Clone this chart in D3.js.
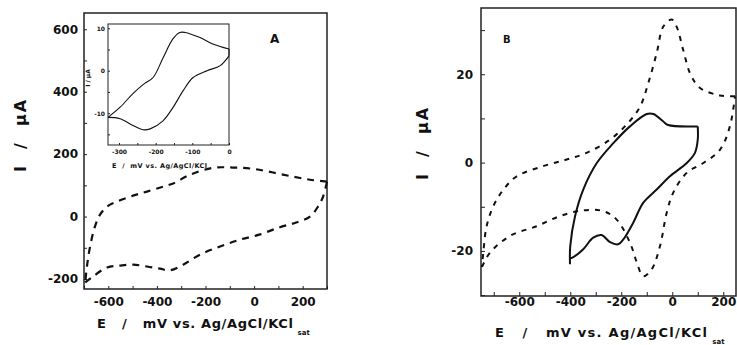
<!DOCTYPE html>
<html>
<head>
<meta charset="utf-8">
<script src="https://cdn.jsdelivr.net/npm/d3@7"></script>
<style>
  body { margin: 0; background: #fff; }
  text { font-family: "DejaVu Sans", sans-serif; font-weight: bold; fill: #111; }
</style>
</head>
<body>
<div id="chart"></div>
<script>
// Panel A, large loop (dashed), [E mV, I uA]
var aMain = [
  [300, 112], [230, 118], [160, 128], [78, 141], [-5, 153], [-87, 157], [-170, 156],
  [-264, 134], [-333, 106], [-374, 96], [-441, 80], [-498, 67], [-564, 48], [-605, 32],
  [-634, 6], [-655, -32], [-675, -96], [-688, -160], [-695, -211],
  [-663, -192], [-605, -163], [-552, -157], [-498, -154], [-441, -160], [-387, -167],
  [-346, -172], [-292, -154], [-223, -122], [-140, -96], [-58, -74], [21, -58],
  [103, -35], [173, -19], [230, 0], [263, 32], [284, 64], [300, 112]
];
// Panel A inset (solid)
var aInset = [
  [-330, -11], [-297, -8.6], [-262, -5.4], [-230, -3], [-207, -1.6], [-180, 3], [-153, 7.5],
  [-134, 9], [-120, 9], [-79, 7.8], [-44, 6.3], [0, 5.1], [0, 3.5], [-24, 1.2], [-60, 0],
  [-98, -1.6], [-125, -4.7], [-153, -8.7], [-180, -11.8], [-215, -13.7], [-235, -13.9],
  [-262, -12.9], [-297, -11.3], [-330, -11]
];
// Panel B, dashed loop
var bDashed = [
  [246, 15], [187, 15.2], [109, 16.9], [70, 20.2], [43, 25.5], [17, 30.8], [-2, 32.4],
  [-35, 30.8], [-61, 24.8], [-94, 18], [-126, 12.7], [-179, 8.6], [-244, 5.2], [-336, 2.2],
  [-414, 0.7], [-506, -0.8], [-610, -3.1], [-662, -6.1], [-702, -9.9], [-728, -14.4],
  [-741, -20.4], [-746, -23.6],
  [-715, -20.4], [-636, -16.6], [-532, -14.4], [-440, -12.1], [-349, -10.8], [-270, -11],
  [-218, -12.9], [-166, -18.1], [-139, -22.6], [-114, -25.7], [-81, -24.2], [-48, -18.9],
  [-22, -11.4], [4, -6.8], [57, -2.3], [122, -0.1], [187, 2.9], [226, 8.2], [246, 15]
];
// Panel B, solid loop
var bSolid = [
  [-401, -23], [-400, -18.9], [-381, -12.1], [-349, -6.1], [-296, -0.1], [-231, 4.4],
  [-166, 8.2], [-100, 11], [-74, 11], [-35, 9.3], [-16, 8.5], [100, 8.2],
  [100, 5.2], [89, 2.2], [57, -0.1], [-9, -3.1], [-61, -6.1], [-114, -9.1], [-153, -13.6],
  [-192, -17.4], [-212, -18.5], [-244, -18], [-277, -16.4], [-310, -17], [-349, -19.6],
  [-388, -21.4], [-401, -21.7]
];

var aXTicks = [-600, -400, -200, 0, 200];
var aYTicks = [-200, 0, 200, 400, 600];
var insetXTicks = [-300, -200, -100, 0];
var insetYTicks = [-10, 0, 10];
var bXTicks = [-600, -400, -200, 0, 200];
var bYTicks = [-20, 0, 20];

var w = 737, h = 345;
var svg = d3.select("#chart").append("svg").attr("width", w).attr("height", h);

function panel(opt) {
  var x = d3.scaleLinear().domain(opt.xDom).range([opt.left, opt.right]);
  var y = d3.scaleLinear().domain(opt.yDom).range([opt.bottom, opt.top]);
  var g = svg.append("g");

  if (opt.bg) {
    g.append("rect").attr("x", opt.left).attr("y", opt.top)
      .attr("width", opt.right - opt.left).attr("height", opt.bottom - opt.top).attr("fill", "#fff");
  }

  var xMinor = d3.range(Math.ceil(opt.xDom[0] / opt.xMinor) * opt.xMinor, opt.xDom[1] + 0.01, opt.xMinor);
  var yMinor = d3.range(Math.ceil(opt.yDom[0] / opt.yMinor) * opt.yMinor, opt.yDom[1] + 0.01, opt.yMinor);

  var xAxis = d3.axisBottom(x).tickValues(xMinor).tickSize(-opt.tick)
    .tickFormat(function(d) { return opt.xTicks.indexOf(d) >= 0 ? d : ""; });
  var yAxis = d3.axisLeft(y).tickValues(yMinor).tickSize(-opt.tick)
    .tickFormat(function(d) { return opt.yTicks.indexOf(d) >= 0 ? d : ""; });

  var gx = g.append("g").attr("transform", "translate(0," + opt.bottom + ")").call(xAxis);
  var gy = g.append("g").attr("transform", "translate(" + opt.left + ",0)").call(yAxis);
  [gx, gy].forEach(function(a) {
    a.select(".domain").remove();
    a.selectAll("line").attr("stroke", "#222").attr("stroke-width", 1);
    a.selectAll("text").style("font-size", opt.fs + "px").attr("fill", "#111")
      .attr("font-family", null);
  });
  gx.selectAll("text").attr("y", opt.xy);
  gy.selectAll("text").attr("x", opt.yx);

  g.append("rect").attr("x", opt.left).attr("y", opt.top)
    .attr("width", opt.right - opt.left).attr("height", opt.bottom - opt.top)
    .attr("fill", "none").attr("stroke", "#222").attr("stroke-width", opt.frame);

  var line = d3.line()
    .x(function(d) { return x(d[0]); })
    .y(function(d) { return y(d[1]); })
    .curve(d3.curveCatmullRom.alpha(0.5));

  opt.curves.forEach(function(c) {
    g.append("path").datum(c.data).attr("d", line)
      .attr("fill", "none").attr("stroke", "#111").attr("stroke-linejoin", "round")
      .attr("stroke-width", c.width).attr("stroke-dasharray", c.dash);
  });
  return g;
}

// Panel A
panel({
  xDom: [-700, 300], yDom: [-232, 652], left: 84, right: 327, top: 13, bottom: 289,
  xTicks: aXTicks, yTicks: aYTicks, xMinor: 100, yMinor: 100, tick: 3, fs: 12,
  xy: 8, yx: -6, frame: 1.5,
  curves: [
    { data: aMain.slice(0, 19), width: 2.2, dash: "7,6" },
    { data: aMain.slice(18), width: 2.2, dash: "7,6" }
  ]
});
// Inset
panel({
  xDom: [-330, 0], yDom: [-17.5, 11], left: 108, right: 229, top: 24, bottom: 145,
  xTicks: insetXTicks, yTicks: insetYTicks, xMinor: 50, yMinor: 5, tick: 2, fs: 6,
  xy: 5, yx: -3, frame: 1, bg: true,
  curves: [
    { data: aInset.slice(0, 12), width: 1.1, dash: null },
    { data: aInset.slice(11, 13), width: 1.1, dash: null },
    { data: aInset.slice(12), width: 1.1, dash: null }
  ]
});
svg.append("text").attr("x", 112).attr("y", 168).style("font-size", "6.5px")
  .attr("textLength", 95).attr("xml:space", "preserve").text("E  /  mV vs. Ag/AgCl/KCl");
svg.append("text").attr("transform", "translate(90,78) rotate(-90)")
  .attr("text-anchor", "middle").style("font-size", "6px").text("I / μA");

// Panel B
panel({
  xDom: [-750, 250], yDom: [-30.2, 35], left: 481, right: 736, top: 8, bottom: 296,
  xTicks: bXTicks, yTicks: bYTicks, xMinor: 100, yMinor: 10, tick: 4, fs: 12,
  xy: 1, yx: -8, frame: 1.5,
  curves: [
    { data: bDashed.slice(0, 22), width: 2, dash: "5,6" },
    { data: bDashed.slice(21), width: 2, dash: "5,6" },
    { data: bSolid.slice(0, 12), width: 2, dash: null },
    { data: bSolid.slice(11), width: 2, dash: null }
  ]
});

// Panel letters
svg.append("text").attr("x", 270).attr("y", 43).style("font-size", "12px").text("A");
svg.append("text").attr("x", 503).attr("y", 43).style("font-size", "10px").text("B");

function yLabel(cx, cy) {
  svg.append("text").attr("transform", "translate(" + cx + "," + cy + ") rotate(-90)")
    .attr("text-anchor", "middle").style("font-size", "16px").style("letter-spacing", "2px")
    .attr("xml:space", "preserve").text("I  /  μA");
}
yLabel(26, 135);
yLabel(428, 143);

function xLabel(x0, yb, len) {
  var t = svg.append("text").attr("x", x0).attr("y", yb).style("font-size", "13px")
    .attr("xml:space", "preserve");
  t.append("tspan").attr("textLength", len).attr("lengthAdjust", "spacing")
    .text("E   /   mV vs. Ag/AgCl/KCl");
  t.append("tspan").attr("dy", 7).attr("dx", 4).style("font-size", "7px").text("sat");
}
xLabel(97, 328, 196);
xLabel(495, 337, 212);
</script>
</body>
</html>
